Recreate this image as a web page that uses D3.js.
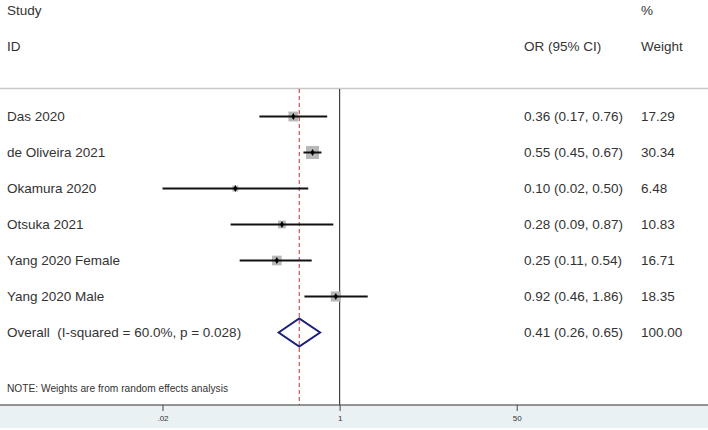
<!DOCTYPE html>
<html><head><meta charset="utf-8">
<script src="https://cdn.jsdelivr.net/npm/d3@7"></script>
<style>body{margin:0;background:#fff}svg{display:block}text{font-family:"Liberation Sans",Arial,sans-serif;white-space:pre}</style>
</head><body><svg id="c" width="708" height="430"></svg>
<script>
const studies = ["Das 2020","de Oliveira 2021","Okamura 2020","Otsuka 2021","Yang 2020 Female","Yang 2020 Male"];
const orVals = [0.36,0.55,0.10,0.28,0.25,0.92];
const loVals = [0.17,0.45,0.02,0.09,0.11,0.46];
const hiVals = [0.76,0.67,0.50,0.87,0.54,1.86];
const ciLabels = ["0.36 (0.17, 0.76)","0.55 (0.45, 0.67)","0.10 (0.02, 0.50)","0.28 (0.09, 0.87)","0.25 (0.11, 0.54)","0.92 (0.46, 1.86)"];
const weights = [17.29,30.34,6.48,10.83,16.71,18.35];
const weightLabels = ["17.29","30.34","6.48","10.83","16.71","18.35"];
const overall = {label:"Overall  (I-squared = 60.0%, p = 0.028)", or:0.41, lo:0.26, hi:0.65, ci:"0.41 (0.26, 0.65)", w:"100.00"};
const tickVals = [0.02,1,50];
const tickLabels = [".02","1","50"];
const note = "NOTE: Weights are from random effects analysis";

const svg = d3.select("#c");
const x = d3.scaleLog().domain([0.02,50]).range([162.5,516.7]);
const rowNames = studies.concat(["overall"]);
const y = d3.scalePoint().domain(rowNames).range([116.5,332.5]);
const size = d3.scaleSqrt().domain([0,30.34]).range([0,13]);
const txt = "#333";
const fs = 13.5;

// header
svg.append("text").attr("x",7).attr("y",14.5).attr("font-size",fs).attr("fill",txt).text("Study");
svg.append("text").attr("x",7).attr("y",51).attr("font-size",fs).attr("fill",txt).text("ID");
svg.append("text").attr("x",524).attr("y",51).attr("font-size",fs).attr("fill",txt).text("OR (95% CI)");
svg.append("text").attr("x",641).attr("y",14.5).attr("font-size",fs).attr("fill",txt).text("%");
svg.append("text").attr("x",641).attr("y",51).attr("font-size",fs).attr("fill",txt).text("Weight");

// top line
svg.append("line").attr("x1",0).attr("x2",708).attr("y1",88.5).attr("y2",88.5).attr("stroke","#c8c8c8").attr("stroke-width",1.5);

// bottom band
const axisY = 405;
svg.append("rect").attr("x",0).attr("y",axisY).attr("width",708).attr("height",23).attr("fill","#e9f1f3");

// reference lines
svg.append("line").attr("x1",x(1)).attr("x2",x(1)).attr("y1",89).attr("y2",axisY).attr("stroke","#444").attr("stroke-width",1.2);
svg.append("line").attr("x1",x(overall.or)).attr("x2",x(overall.or)).attr("y1",89).attr("y2",axisY)
  .attr("stroke","#c0302a").attr("stroke-width",1).attr("stroke-dasharray","4,3");

// study rows
const rows = studies.map((s,i)=>({s,or:orVals[i],lo:loVals[i],hi:hiVals[i],ci:ciLabels[i],w:weights[i],wl:weightLabels[i]}));
const g = svg.append("g");
rows.forEach(d=>{
  const yy = y(d.s);
  g.append("text").attr("x",7).attr("y",yy+4.5).attr("font-size",fs).attr("fill",txt).text(d.s);
  const sz = size(d.w);
  g.append("rect").attr("x",x(d.or)-sz/2).attr("y",yy-sz/2).attr("width",sz).attr("height",sz).attr("fill","#b8b8b8");
  g.append("line").attr("x1",x(d.lo)).attr("x2",x(d.hi)).attr("y1",yy).attr("y2",yy).attr("stroke","#111").attr("stroke-width",2);
  g.append("path").attr("d",d3.symbol(d3.symbolDiamond,14)()).attr("transform",`translate(${x(d.or)},${yy})`).attr("fill","#000");
  g.append("text").attr("x",524).attr("y",yy+4.5).attr("font-size",fs).attr("fill",txt).text(d.ci);
  g.append("text").attr("x",641).attr("y",yy+4.5).attr("font-size",fs).attr("fill",txt).text(d.wl);
});

// overall
const oy = y("overall");
svg.append("text").attr("x",7).attr("y",oy+4.5).attr("font-size",fs).attr("fill",txt).text(overall.label);
svg.append("path").attr("d",`M${x(overall.lo)},${oy} L${x(overall.or)},${oy-14} L${x(overall.hi)},${oy} L${x(overall.or)},${oy+14} Z`)
  .attr("fill","none").attr("stroke","#1c1f7a").attr("stroke-width",2);
svg.append("text").attr("x",524).attr("y",oy+4.5).attr("font-size",fs).attr("fill",txt).text(overall.ci);
svg.append("text").attr("x",641).attr("y",oy+4.5).attr("font-size",fs).attr("fill",txt).text(overall.w);

// note
svg.append("text").attr("x",7).attr("y",391.5).attr("font-size",10.2).attr("fill",txt).text(note);

// axis
svg.append("line").attr("x1",0).attr("x2",708).attr("y1",axisY).attr("y2",axisY).attr("stroke","#333").attr("stroke-width",1.2);
const ax = svg.append("g").attr("transform",`translate(0,${axisY})`)
  .call(d3.axisBottom(x).tickValues(tickVals).tickSize(6).tickFormat((d,i)=>tickLabels[i]));
ax.select(".domain").remove();
ax.selectAll(".tick line").attr("stroke","#444");
ax.selectAll(".tick text").attr("font-size",8).attr("fill",txt).attr("dy","0.9em").attr("font-family","Liberation Sans, Arial, sans-serif");
</script></body></html>
